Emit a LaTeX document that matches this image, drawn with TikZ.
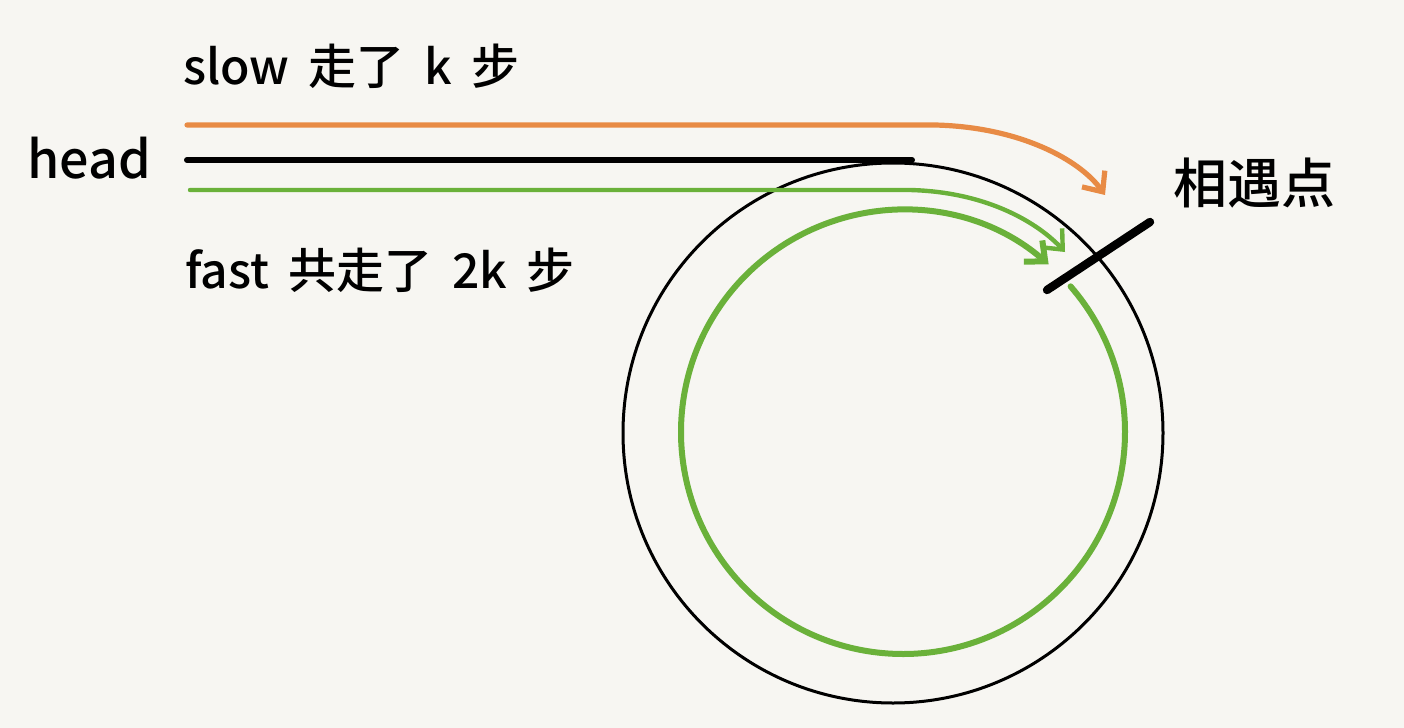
\documentclass[tikz,border=0pt]{standalone}
\usepackage{fontspec}
\setmainfont{Noto Sans CJK SC}[WordSpace=1.8, BoldFont={* Medium}]
\usetikzlibrary{arrows.meta}
\definecolor{paper}{HTML}{F7F6F2}
\definecolor{slowcol}{HTML}{E88B45}
\definecolor{fastcol}{HTML}{6AB13A}
\begin{document}
\begin{tikzpicture}[line cap=round, line join=round, x=0.5pt, y=-0.5pt,
		barb/.style={-{Straight Barb[length=8pt,width=14pt]}},
		label/.style={anchor=west, font=\fontsize{24}{28}\selectfont\bfseries}]
		% Define main parameters
		\def\R{270}   % ring radius
		\def\r{222}   % inner loop radius
		
		% Paper
		\fill[paper] (0,0) rectangle (1404,728);
		\useasboundingbox (0,0) rectangle (1404,728);
		
		% Key points
		\coordinate (O) at (893,433);    % ring centre
		\coordinate (I) at (903,432);    % inner loop centre
		\coordinate (H) at (187,160);    % head
		\coordinate (T) at (912,160);    % ring entry
		\coordinate (S0) at (187,125);
		\coordinate (S1) at (935,125);
		\coordinate (S2) at (1105,195);  % slow arrives
		\coordinate (F0) at (190,190);
		\coordinate (F1) at (910,190);
		\coordinate (F2) at (1065,252);  % fast, first pass
		\coordinate (M1) at (1047,290);
		\coordinate (M2) at (1150,222);
		
		% Ring and straight part
		\draw[line width=1.5pt] (O) circle[radius=\R];
		\draw[line width=3pt] (H) -- (T);
		
		% slow pointer
		\draw[slowcol, line width=2.6pt, barb] (S0) -- (S1) .. controls (1020,127) and (1080,160) .. (S2);
		
		% fast pointer
		\draw[fastcol, line width=2.2pt, barb] (F0) -- (F1) .. controls (990,192) and (1040,225) .. (F2);
		\draw[fastcol, line width=3pt, barb] ([shift={(-41:\r)}]I) arc[start angle=-41, end angle=311, radius=\r];
		
		% Meeting point
		\draw[line width=4.2pt] (M1) -- (M2);
		
		% Labels
		\node[label] (slowlbl) at (176,66) {slow 走了 k 步};
		\node[label] (fastlbl) at (178,270) {fast 共走了 2k 步};
		\node[anchor=east, font=\fontsize{26}{30}\selectfont\bfseries] (headlbl) at (158,158) {head};
		\node[anchor=west, font=\fontsize{27}{32}\selectfont\bfseries] (meetlbl) at (1166,183) {相遇点};
	\end{tikzpicture}
\end{document}
